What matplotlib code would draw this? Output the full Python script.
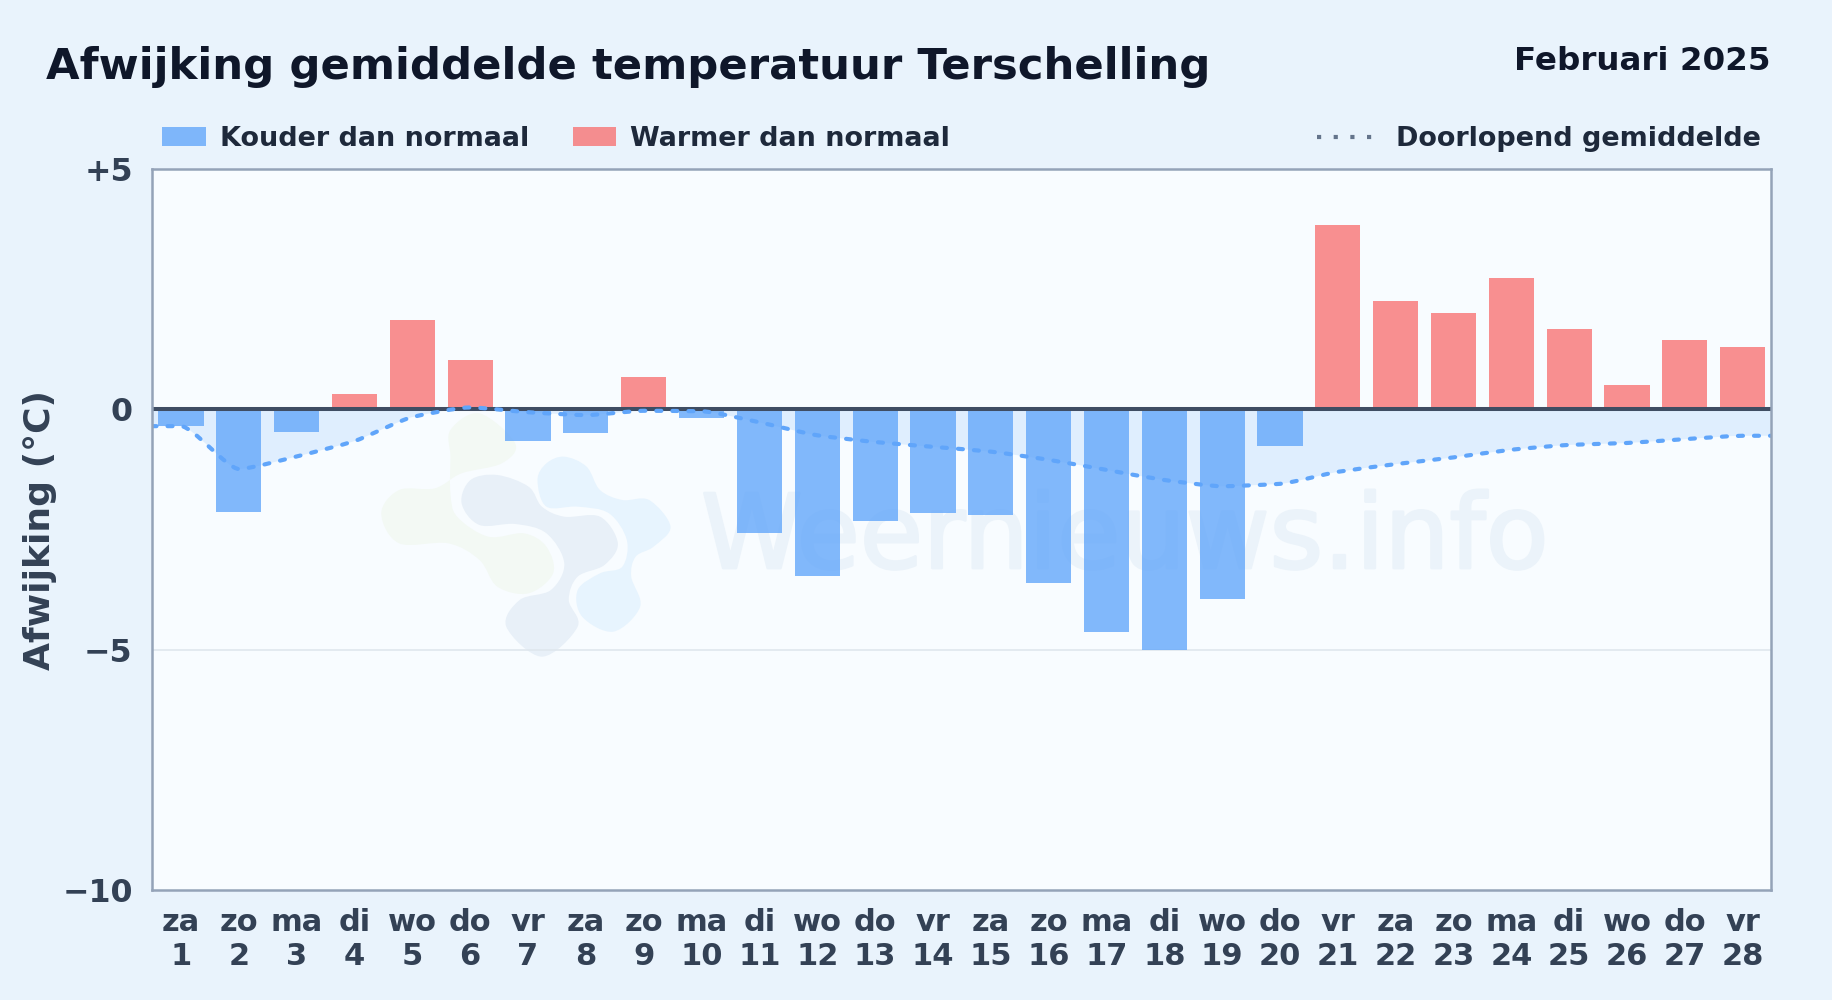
import numpy as np
import matplotlib
matplotlib.use("Agg")
import matplotlib.pyplot as plt
import matplotlib.patheffects as pe
from matplotlib.lines import Line2D
from matplotlib.patches import PathPatch, Rectangle
from matplotlib.path import Path
from matplotlib.transforms import IdentityTransform

# input variables
weekdays = ["za", "zo", "ma", "di", "wo", "do", "vr", "za", "zo", "ma", "di", "wo", "do", "vr",
            "za", "zo", "ma", "di", "wo", "do", "vr", "za", "zo", "ma", "di", "wo", "do", "vr"]
days = list(range(1, 29))
deviation = [-0.35, -2.13, -0.47, 0.31, 1.85, 1.02, -0.66, -0.49, 0.67, -0.19, -2.57, -3.46, -2.32, -2.15,
             -2.19, -3.61, -4.64, -5.00, -3.94, -0.76, 3.83, 2.25, 2.00, 2.73, 1.67, 0.50, 1.44, 1.29]
running_mean = [-0.35, -1.24, -0.98, -0.66, -0.16, 0.04, -0.06, -0.12, -0.03, -0.04, -0.27, -0.54, -0.68, -0.78,
                -0.88, -1.05, -1.26, -1.47, -1.60, -1.55, -1.30, -1.14, -1.00, -0.84, -0.74, -0.70, -0.62, -0.55]
ytick_values = [5, 0, -5, -10]
ytick_labels = ["+5", "0", "\u22125", "\u221210"]

W, H = 1832, 1000
BG = "#e9f3fc"
PLOT_BG = "#f8fcff"
BLUE = "#60a5fa"
RED = "#f87171"
DARK = "#0f172a"
TEXT = "#1e293b"
AXIS_TEXT = "#334155"

plt.rcParams["font.family"] = ["DejaVu Sans"]


def fx(px):
    return px / W


def fy(py):
    return 1 - py / H


def smooth_curve(x, y):
    # monotone tangents with short handles, drawn as bezier curves
    x = np.asarray(x, float)
    y = np.asarray(y, float)
    h = np.diff(x)
    s = np.diff(y) / h
    t = np.zeros(len(x))
    for i in range(1, len(x) - 1):
        if s[i - 1] * s[i] > 0:
            t[i] = 2 * s[i - 1] * s[i] / (s[i - 1] + s[i])
    verts = [(x[0], y[0])]
    codes = [Path.MOVETO]
    for i in range(len(x) - 1):
        d = 0.2 * h[i]
        verts += [(x[i] + d, y[i] + t[i] * d),
                  (x[i + 1] - d, y[i + 1] - t[i + 1] * d),
                  (x[i + 1], y[i + 1])]
        codes += [Path.CURVE4] * 3
    return verts, codes


def blob(points, color):
    # closed watermark shape through pixel points of the picture
    p = np.array([(px, H - py) for px, py in points], float)
    n = len(p)
    verts = [tuple(p[0])]
    codes = [Path.MOVETO]
    for i in range(n):
        p0, p1, p2, p3 = p[i - 1], p[i], p[(i + 1) % n], p[(i + 2) % n]
        verts += [tuple(p1 + (p2 - p0) / 6), tuple(p2 - (p3 - p1) / 6), tuple(p2)]
        codes += [Path.CURVE4] * 3
    return PathPatch(Path(verts, codes), facecolor=color, edgecolor="none",
                     transform=IdentityTransform(), zorder=1)


def zoomed(points):
    return [(350 + zx / 2.24, 400 + zy / 3) for zx, zy in points]


fig = plt.figure(figsize=(W / 100, H / 100), dpi=100, facecolor=BG)
ax = fig.add_axes([fx(151.5), fy(890), (1770.5 - 151.5) / W, (890 - 169) / H])
ax.set_facecolor(PLOT_BG)
ax.set_xlim(0.49, 28.48)
ax.set_ylim(-10, 5)

# watermark
green_pts = [(290, 40), (370, 130), (340, 190), (250, 220), (190, 265), (110, 270), (70, 340), (110, 430),
             (220, 430), (290, 480), (330, 560), (400, 580), (455, 520), (440, 440), (390, 400), (310, 410),
             (240, 350), (225, 280), (225, 170), (225, 90)]
grey_pts = [(330, 225), (400, 260), (430, 320), (480, 350), (560, 350), (600, 430), (570, 495), (510, 530),
            (490, 600), (510, 680), (430, 770), (350, 680), (380, 600), (450, 570), (480, 490), (440, 400),
            (370, 372), (290, 375), (250, 310), (270, 240)]
light_pts = [(480, 170), (530, 200), (560, 270), (610, 300), (670, 300), (718, 380), (680, 440), (640, 470),
             (630, 530), (650, 620), (590, 695), (520, 650), (510, 570), (560, 520), (610, 500), (620, 420),
             (580, 340), (510, 320), (440, 320), (420, 240), (440, 190)]
ax.add_patch(blob(zoomed(green_pts), "#f3f9f4"))
ax.add_patch(blob(zoomed(grey_pts), "#e8f0f8"))
ax.add_patch(blob(zoomed(light_pts), "#e7f4fe"))
ax.text(701, H - 568, "Weernieuws.info", transform=IdentityTransform(), fontsize=74, color="#ebf3fa",
        ha="left", va="baseline", zorder=1.5,
        path_effects=[pe.withStroke(linewidth=2, foreground="#ebf3fa")])

ax.axhline(-5, color="#dfe7ee", lw=1.2, zorder=1.6)

# area between running mean and zero
x_line = [0.49] + days + [28.48]
y_line = [running_mean[0]] + running_mean + [running_mean[-1]]
verts, codes = smooth_curve(x_line, y_line)
area_verts = verts + [(28.48, 0), (0.49, 0), verts[0]]
area_codes = codes + [Path.LINETO, Path.LINETO, Path.CLOSEPOLY]
ax.add_patch(PathPatch(Path(area_verts, area_codes), facecolor="#dfeefe", edgecolor="none", zorder=1.7))

colors = [BLUE if v < 0 else RED for v in deviation]
ax.bar(days, deviation, width=0.78, color=colors, alpha=0.78, linewidth=0, zorder=2)
ax.axhline(0, color="#3f4d63", lw=2.9, zorder=3)
ax.add_patch(PathPatch(Path(verts, codes), facecolor="none", edgecolor=BLUE, lw=3.0,
                       linestyle=(0, (1.2, 2.65)), capstyle="round", zorder=4))

for spine in ax.spines.values():
    spine.set_color("#94a3b8")
    spine.set_linewidth(1.8)
    spine.set_zorder(5)

ax.set_yticks(ytick_values)
ax.set_yticklabels(ytick_labels, fontsize=22.8, fontweight="bold", color=AXIS_TEXT)
ax.set_xticks(days)
ax.set_xticklabels([f"{w}\n{d}" for w, d in zip(weekdays, days)], fontsize=22, fontweight="bold",
                   color=AXIS_TEXT, linespacing=1.21)
ax.tick_params(axis="y", length=0, pad=13.5)
ax.tick_params(axis="x", length=0, pad=13)

fig.text(fx(40.5), fy(530), "Afwijking (\u00b0C)", rotation=90, fontsize=26, fontweight="bold",
         color=AXIS_TEXT, ha="center", va="center")

# title
fig.text(fx(46), fy(79), "Afwijking gemiddelde temperatuur Terschelling", fontsize=31.25, fontweight="bold",
         color=DARK, ha="left", va="baseline")
fig.text(fx(1771), fy(70), "Februari 2025", fontsize=23.4, fontweight="bold", color=DARK, ha="right", va="baseline")

# legend row
fig.add_artist(Rectangle((fx(162), fy(146)), 44 / W, 19 / H, transform=fig.transFigure,
                         facecolor=BLUE, alpha=0.78, edgecolor="none"))
fig.add_artist(Rectangle((fx(573), fy(146)), 43 / W, 19 / H, transform=fig.transFigure,
                         facecolor=RED, alpha=0.78, edgecolor="none"))
fig.add_artist(Line2D([fx(1317), fx(1373)], [fy(137), fy(137)], transform=fig.transFigure,
                      color="#64748b", lw=3.0, linestyle=(0, (1, 3))))
for px, label in [(219.5, "Kouder dan normaal"), (629.5, "Warmer dan normaal"), (1395.5, "Doorlopend gemiddelde")]:
    fig.text(fx(px), fy(136), label, fontsize=19.45, fontweight="bold", color=TEXT, ha="left", va="center_baseline")

fig.savefig("out.png", dpi=100, facecolor=BG)
